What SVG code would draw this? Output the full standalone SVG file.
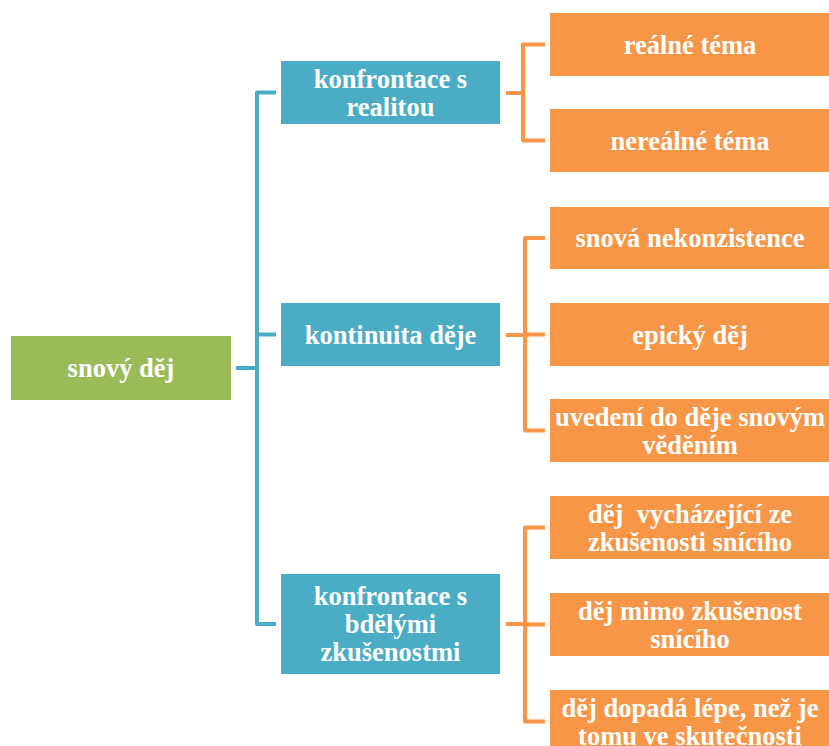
<svg xmlns="http://www.w3.org/2000/svg" width="829" height="746" viewBox="0 0 829 746">
<style>
.t{font-family:'Liberation Serif','Times New Roman',serif;font-weight:bold;font-size:26.5px;fill:#fff;text-anchor:middle}
.g{fill:#9BBB59}
.b{fill:#4BACC6}
.o{fill:#F79646}
.cb{fill:none;stroke:#4BACC6;stroke-width:4;stroke-linejoin:round}
.co{fill:none;stroke:#F79646;stroke-width:4;stroke-linejoin:round}
</style>
<rect width="829" height="746" fill="#fff"/>
<g id="connectors">
<path class="cb" d="M236,368 H257 M276,92.5 H257 V624 H276 M257,334.5 H276"/>
<path class="co" d="M506,93 H523 M545,44.5 H523 V140.5 H545"/>
<path class="co" d="M506,335 H525 M545,238 H525 V430.5 H545 M525,334.5 H545"/>
<path class="co" d="M506,624 H525 M545,527.5 H525 V721.5 H545 M525,624.5 H545"/>
</g>
<g font-family="Liberation Serif, Times New Roman, serif" font-weight="bold" font-size="26.5">
<g id="root"><rect class="g" x="11" y="336" width="220" height="64"/><text class="t" x="121" y="377">snový děj</text></g>
<g id="b1"><rect class="b" x="281" y="61" width="219" height="63"/><text class="t" x="390.5" y="87.5">konfrontace s</text><text class="t" x="390.5" y="115.5">realitou</text></g>
<g id="b2"><rect class="b" x="281" y="303" width="219" height="63"/><text class="t" x="390.5" y="343.5">kontinuita děje</text></g>
<g id="b3"><rect class="b" x="281" y="574" width="219" height="100"/><text class="t" x="390.5" y="605">konfrontace s</text><text class="t" x="390.5" y="633">bdělými</text><text class="t" x="390.5" y="661">zkušenostmi</text></g>
<g id="o1"><rect class="o" x="550" y="13" width="280" height="63"/><text class="t" x="690" y="53.5">reálné téma</text></g>
<g id="o2"><rect class="o" x="550" y="109" width="280" height="63"/><text class="t" x="690" y="149.5">nereálné téma</text></g>
<g id="o3"><rect class="o" x="550" y="207" width="280" height="62"/><text class="t" x="690" y="247">snová nekonzistence</text></g>
<g id="o4"><rect class="o" x="550" y="303" width="280" height="63"/><text class="t" x="690" y="343.5">epický děj</text></g>
<g id="o5"><rect class="o" x="550" y="399" width="280" height="63"/><text class="t" x="690" y="425.5">uvedení do děje snovým</text><text class="t" x="690" y="453.5">věděním</text></g>
<g id="o6"><rect class="o" x="550" y="496" width="280" height="63"/><text class="t" x="690" y="522.5" xml:space="preserve">děj  vycházející ze</text><text class="t" x="690" y="550.5">zkušenosti snícího</text></g>
<g id="o7"><rect class="o" x="550" y="593" width="280" height="63"/><text class="t" x="690" y="619.5">děj mimo zkušenost</text><text class="t" x="690" y="647.5">snícího</text></g>
<g id="o8"><rect class="o" x="550" y="690" width="280" height="63"/><text class="t" x="690" y="716.5">děj dopadá lépe, než je</text><text class="t" x="690" y="744.5">tomu ve skutečnosti</text></g>
</g>
</svg>
